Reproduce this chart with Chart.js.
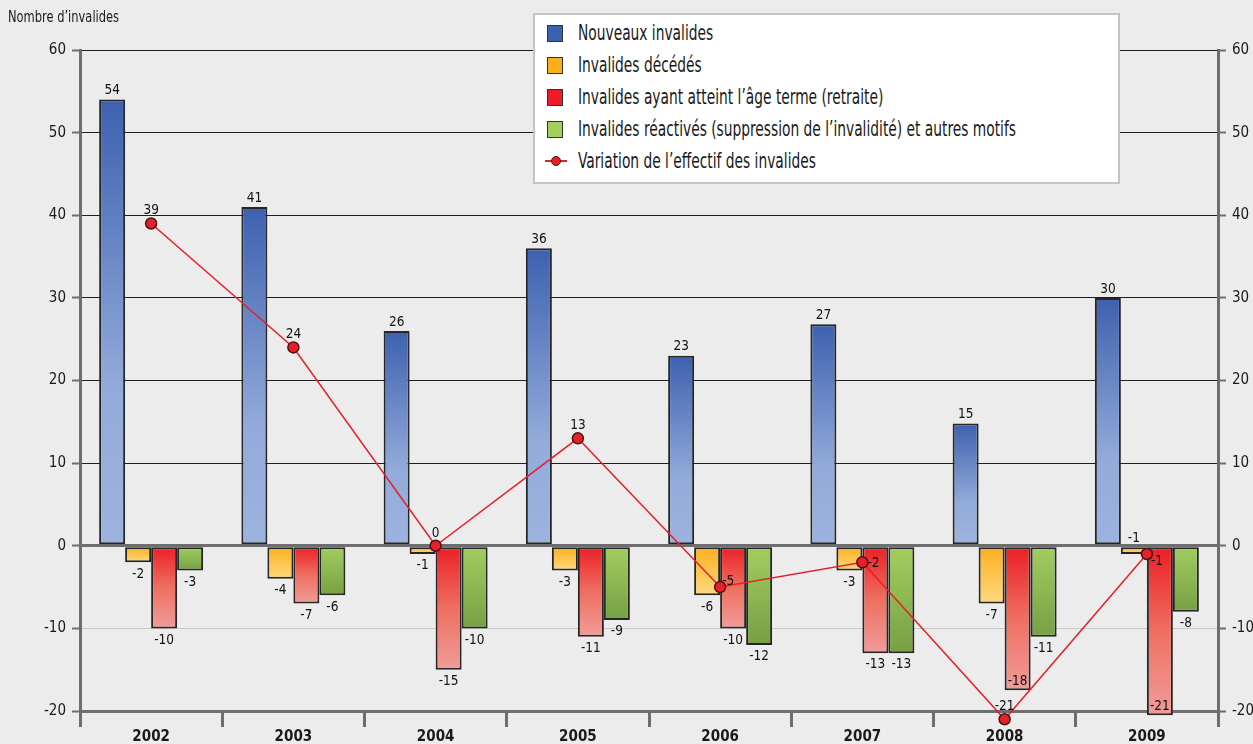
<!DOCTYPE html>
<html>
<head>
<meta charset="utf-8">
<script src="https://cdn.jsdelivr.net/npm/chart.js@4.4.1/dist/chart.umd.min.js"></script>
<style>
  body { margin: 0; background: #ececec; }
  #wrap { position: relative; width: 1253px; height: 744px; background: #ececec;
          font-family: "Liberation Sans Narrow", "DejaVu Sans Condensed", sans-serif; color: #1a1a1a; }
  #titre { position: absolute; left: 8px; top: 8px; font-size: 15px; transform: scaleX(0.85); transform-origin: left center; }
  #legende { position: absolute; left: 533px; top: 13px; width: 583px; height: 167px;
             background: #fff; border: 2px solid #c4c4c4; }
  .item { position: absolute; left: 10px; height: 32px; line-height: 32px; font-size: 21px; white-space: nowrap; }
  .item .mk { position: absolute; left: 2px; top: 8px; width: 14px; height: 15px; border: 1px solid #333; }
  .item .ln { position: absolute; left: 0; top: 15px; width: 22px; height: 2px; background: #e5202a; }
  .item .pt { position: absolute; left: 6px; top: 11px; width: 8px; height: 8px; border-radius: 50%;
              background: #e5202a; border: 1px solid #4a1414; }
  .item span.t { position: absolute; left: 33px; transform: scaleX(0.73); transform-origin: left center; }
</style>
</head>
<body>
<div id="wrap">
  <canvas id="graph" width="1253" height="744"></canvas>
  <div id="titre">Nombre d’invalides</div>
  <div id="legende"></div>
</div>
<script>
// Données
const annees = ['2002', '2003', '2004', '2005', '2006', '2007', '2008', '2009'];
const nouveaux = [54, 41, 26, 36, 23, 26.8, 14.8, 30];
const decedes = [-2, -4, -1, -3, -6, -3, -7, -1];
const retraite = [-10, -7, -15, -11, -10, -13, -17.5, -20.5];
const reactives = [-3, -6, -10, -9, -12, -13, -11, -8];
const variation = [39, 24, 0, 13, -5, -2, -21, -1];

// Position des étiquettes (style, pas des données)
const posDecedes = ['below', 'below', 'below', 'below', 'below', 'below', 'below', 'above'];
const posRetraite = ['below', 'below', 'below', 'below', 'below', 'below', 'inside', 'inside'];
const posVariation = ['top', 'top', 'top', 'top', 'upright', 'right', 'top', 'downright'];

const FONT = '"Liberation Sans Narrow", "DejaVu Sans Condensed", sans-serif';

function degrade(stops) {
  // dégradé vertical entre 0 et la valeur de la barre
  return function (c) {
    const chart = c.chart;
    const y = chart.scales.y;
    if (!y || c.raw == null) return stops[0][1];
    const p0 = y.getPixelForValue(0);
    const p1 = y.getPixelForValue(c.raw);
    if (!isFinite(p0) || !isFinite(p1)) return stops[0][1];
    const g = chart.ctx.createLinearGradient(0, Math.min(p0, p1), 0, Math.max(p0, p1) + 0.01);
    stops.forEach(s => g.addColorStop(s[0], s[1]));
    return g;
  };
}

function arrondi(v) {
  return Math.sign(v) * Math.round(Math.abs(v));
}

// étiquettes de valeurs (+ points de la courbe hors zone du graphique)
const etiquettes = {
  id: 'etiquettes',
  afterDatasetsDraw(chart) {
    const ctx = chart.ctx;
    const a = chart.chartArea;
    ctx.save();
    ctx.font = '13.5px ' + FONT;
    ctx.fillStyle = '#111';
    chart.data.datasets.forEach((ds, i) => {
      const meta = chart.getDatasetMeta(i);
      meta.data.forEach((el, j) => {
        const txt = String(arrondi(ds.data[j]));
        const pos = ds.positions ? ds.positions[j] : (ds.data[j] >= 0 ? 'above' : 'below');
        ctx.textAlign = 'center';
        if (ds.type === 'line') {
          if (el.y > a.bottom || el.y < a.top) {
            ctx.save();
            el.draw(ctx, { left: 0, top: 0, right: chart.width, bottom: chart.height });
            ctx.restore();
          }
          if (pos === 'top') { ctx.textBaseline = 'bottom'; ctx.fillText(txt, el.x, el.y - 6); }
          else if (pos === 'upright') { ctx.textAlign = 'left'; ctx.textBaseline = 'bottom'; ctx.fillText(txt, el.x + 2, el.y + 1); }
          else if (pos === 'right') { ctx.textAlign = 'left'; ctx.textBaseline = 'middle'; ctx.fillText(txt, el.x + 5, el.y + 1); }
          else { ctx.textAlign = 'left'; ctx.textBaseline = 'middle'; ctx.fillText(txt, el.x + 4, el.y + 7); }
          return;
        }
        if (pos === 'above') {
          ctx.textBaseline = 'bottom';
          ctx.fillText(txt, el.x, Math.min(el.y, el.base) - 2);
        } else if (pos === 'inside') {
          ctx.textBaseline = 'bottom';
          ctx.fillText(txt, el.x, el.y - 2);
        } else {
          ctx.textBaseline = 'top';
          ctx.fillText(txt, el.x, el.y + 5);
        }
      });
    });
    ctx.restore();
  }
};

function barre(label, data, stops, positions) {
  return {
    type: 'bar',
    label: label,
    data: data,
    positions: positions,
    backgroundColor: degrade(stops),
    legendColor: stops[0][1],
    borderColor: '#262626',
    borderWidth: 2,
    borderSkipped: false,
    categoryPercentage: 0.731,
    barPercentage: 1,
    clip: false,
    order: 1
  };
}

const datasets = [
  barre('Nouveaux invalides', nouveaux, [[0, '#3d61b0'], [0.65, '#93abda'], [1, '#9db3df']]),
  barre('Invalides décédés', decedes, [[0, '#fbae1c'], [1, '#fed97f']], posDecedes),
  barre('Invalides ayant atteint l’âge terme (retraite)', retraite, [[0, '#ec1d25'], [0.5, '#ee6f60'], [1, '#f19c9a']], posRetraite),
  barre('Invalides réactivés (suppression de l’invalidité) et autres motifs', reactives, [[0, '#a2ce60'], [1, '#76a043']]),
  {
    type: 'line',
    label: 'Variation de l’effectif des invalides',
    data: variation,
    positions: posVariation,
    borderColor: '#e5202a',
    borderWidth: 1.5,
    pointRadius: 5.5,
    pointBackgroundColor: '#e8202a',
    pointBorderColor: '#4a1414',
    pointBorderWidth: 1.5,
    clip: false,
    order: 0
  }
];

new Chart(document.getElementById('graph'), {
  data: { labels: annees, datasets: datasets },
  options: {
    responsive: false,
    animation: false,
    layout: { padding: { top: 50, left: 0, right: 0, bottom: 0 } },
    plugins: { legend: { display: false }, tooltip: { enabled: false } },
    scales: {
      x: {
        offset: true,
        grid: { offset: true, drawOnChartArea: false, drawTicks: true, tickLength: 16, color: '#6e6e6e', lineWidth: 3 },
        border: { display: true, color: '#6e6e6e', width: 3 },
        ticks: { color: '#1a1a1a', font: { family: FONT, size: 15, weight: 'bold' }, padding: 1 },
        afterFit: s => { s.height = 33; }
      },
      y: {
        position: 'left',
        min: -20, max: 60,
        ticks: { stepSize: 10, color: '#1a1a1a', font: { family: FONT, size: 15 }, padding: 6 },
        grid: {
          color: c => c.tick.value === 0 || c.tick.value === -20 ? '#6e6e6e' : (c.tick.value < 0 ? '#c8c8c8' : '#1e1e1e'),
          lineWidth: c => c.tick.value === 0 ? 3 : 1,
          tickColor: '#6e6e6e', tickWidth: 2, tickLength: 8
        },
        border: { display: true, color: '#6e6e6e', width: 3 },
        afterFit: s => { s.width = 80; }
      },
      y2: {
        position: 'right',
        min: -20, max: 60,
        ticks: { stepSize: 10, color: '#1a1a1a', font: { family: FONT, size: 15 }, padding: 6 },
        grid: { drawOnChartArea: false, tickColor: '#6e6e6e', tickWidth: 2, tickLength: 8 },
        border: { display: true, color: '#6e6e6e', width: 3 },
        afterFit: s => { s.width = 35; }
      }
    }
  },
  plugins: [etiquettes]
});

// légende HTML construite à partir des séries
const leg = document.getElementById('legende');
datasets.forEach((ds, i) => {
  const d = document.createElement('div');
  d.className = 'item';
  d.style.top = (2 + i * 32) + 'px';
  if (ds.type === 'line') {
    d.innerHTML = '<div class="ln"></div><div class="pt"></div>';
  } else {
    d.innerHTML = '<div class="mk" style="background:' + ds.legendColor + '"></div>';
  }
  const t = document.createElement('span');
  t.className = 't';
  t.textContent = ds.label;
  d.appendChild(t);
  leg.appendChild(d);
});
</script>
</body>
</html>
